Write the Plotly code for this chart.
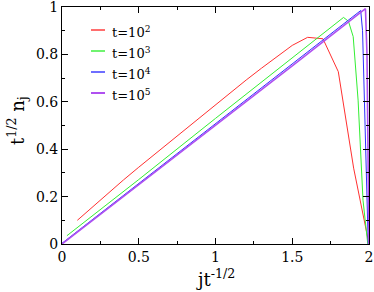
import plotly.graph_objects as go

# ---- data ----
x_t2 = [0.1, 0.2, 0.3, 0.4, 0.5, 0.6, 0.7, 0.8, 0.9, 1.0, 1.1, 1.2, 1.3, 1.4, 1.5, 1.6, 1.7, 1.8, 1.9, 2.0]
y_t2 = [0.100, 0.158, 0.215, 0.270, 0.324, 0.377, 0.430, 0.482, 0.536, 0.588, 0.640, 0.692, 0.742, 0.792, 0.838, 0.872, 0.866, 0.727, 0.320, 0.0]

x_t3 = [0.032, 0.5, 1.0, 1.5, 1.834, 1.866, 1.897, 1.929, 1.961, 1.992]
y_t3 = [0.035, 0.272, 0.530, 0.785, 0.956, 0.940, 0.875, 0.607, 0.185, 0.0]

x_t4 = [0.0, 0.5, 1.0, 1.5, 1.946, 1.958, 1.968, 1.978, 1.988, 1.995]
y_t4 = [0.003, 0.255, 0.507, 0.760, 0.985, 0.90, 0.65, 0.40, 0.15, 0.0]

x_t5 = [0.0, 0.5, 1.0, 1.5, 1.977, 1.987, 1.994, 2.0]
y_t5 = [0.0, 0.250, 0.500, 0.752, 0.993, 0.80, 0.35, 0.0]

labels = ["t=10<sup>2</sup>", "t=10<sup>3</sup>", "t=10<sup>4</sup>", "t=10<sup>5</sup>"]
colors = ["#ff3030", "#33ee33", "#3030ff", "#b050f0"]
widths = [1, 1, 1, 1.6]

series = [(x_t2, y_t2), (x_t3, y_t3), (x_t4, y_t4), (x_t5, y_t5)]

FONT = "DejaVu Serif"

fig = go.Figure()
for (xs, ys), lab, c, w in zip(series, labels, colors, widths):
    fig.add_trace(go.Scatter(x=xs, y=ys, mode="lines", name=lab,
                             line=dict(color=c, width=w), showlegend=False))

axis_common = dict(showline=True, linecolor="black", linewidth=1, mirror="ticks",
                   ticks="inside", ticklen=6, tickcolor="black", tickwidth=1,
                   showgrid=False, zeroline=False, automargin=False,
                   ticklabeloverflow="allow",
                   tickfont=dict(family=FONT, size=14, color="black"))

fig.update_xaxes(range=[0, 2], dtick=0.5, tick0=0,
                 minor=dict(ticks="inside", ticklen=3, dtick=0.25, tickcolor="black", showgrid=False),
                 **axis_common)
fig.update_yaxes(range=[0, 1], dtick=0.2, tick0=0,
                 minor=dict(ticks="inside", ticklen=3, dtick=0.1, tickcolor="black", showgrid=False),
                 **axis_common)

# manual legend
L, R, T, B = 62, 369, 7, 244
PW, PH = R - L, B - T
row_y = [30, 51, 72, 93]
for yy, lab, c, w in zip(row_y, labels, colors, widths):
    yp = (B - yy) / PH
    fig.add_shape(type="line", xref="paper", yref="paper",
                  x0=(91 - L) / PW, x1=(105 - L) / PW, y0=yp, y1=yp,
                  line=dict(color=c, width=w + 0.4))
    fig.add_annotation(xref="paper", yref="paper", x=(110 - L) / PW, y=(B - yy - 2) / PH,
                       text=lab, showarrow=False, xanchor="left", yanchor="middle",
                       font=dict(family=FONT, size=13, color="black"))

# axis titles
fig.add_annotation(xref="paper", yref="paper", x=(215 - L) / PW, y=(B - 278) / PH,
                   text="jt<sup>-1/2</sup>", showarrow=False, xanchor="center", yanchor="middle",
                   font=dict(family=FONT, size=18, color="black"))
fig.add_annotation(xref="paper", yref="paper", x=(17 - L) / PW, y=(B - 121) / PH,
                   text="t<sup>1/2</sup> n<sub>j</sub>", showarrow=False, textangle=-90,
                   xanchor="center", yanchor="middle",
                   font=dict(family=FONT, size=18, color="black"))

fig.update_layout(template="none", width=374, height=292,
                  margin=dict(l=L, r=374 - R, t=T, b=292 - B, autoexpand=False),
                  font=dict(family=FONT, color="black"),
                  paper_bgcolor="white", plot_bgcolor="white", showlegend=False)

fig.write_html("out.html", config={"displayModeBar": False},
               post_script="document.body.style.margin='0';document.body.style.padding='0';")
